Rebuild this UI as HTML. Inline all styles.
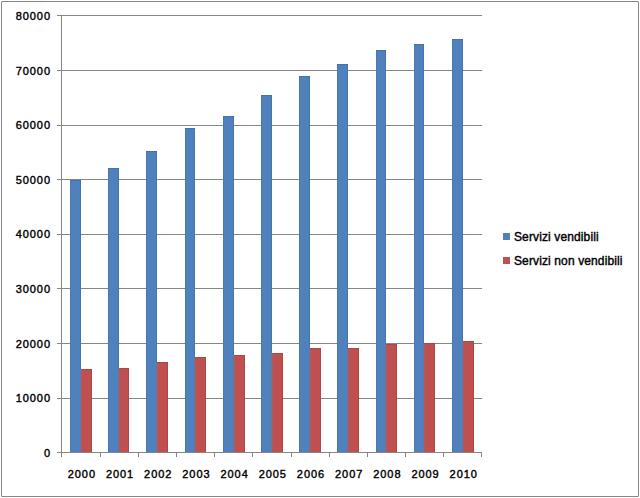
<!DOCTYPE html>
<html><head><meta charset="utf-8"><style>
html,body{margin:0;padding:0;background:#fff;}
body{width:640px;height:498px;position:relative;overflow:hidden;font-family:"Liberation Sans",sans-serif;font-weight:bold;color:#000;}
.yl,.xl,.lg{font-weight:normal;-webkit-text-stroke:0.4px #000;}
#frame{position:absolute;left:1px;top:1px;width:638px;height:496px;box-sizing:border-box;border:1px solid #868686;border-radius:1px;}
.c div{position:absolute;}
svg{position:absolute;left:0;top:0;}
.yl{position:absolute;right:589px;font-size:11px;line-height:14px;height:14px;white-space:nowrap;letter-spacing:0.95px;}
.xl{position:absolute;top:467px;width:60px;text-align:center;font-size:11px;line-height:14px;white-space:nowrap;letter-spacing:0.95px;}
.lg{position:absolute;left:514px;font-size:12px;line-height:14px;white-space:nowrap;letter-spacing:0.12px;}
.sq{position:absolute;left:503px;width:7px;height:7px;}
</style></head><body>
<div id="frame"></div>
<div class="c">
<div style="left:57px;top:15px;width:425px;height:1px;background:#868686"></div>
<div style="left:57px;top:70px;width:425px;height:1px;background:#868686"></div>
<div style="left:57px;top:125px;width:425px;height:1px;background:#868686"></div>
<div style="left:57px;top:179px;width:425px;height:1px;background:#868686"></div>
<div style="left:57px;top:234px;width:425px;height:1px;background:#868686"></div>
<div style="left:57px;top:288px;width:425px;height:1px;background:#868686"></div>
<div style="left:57px;top:343px;width:425px;height:1px;background:#868686"></div>
<div style="left:57px;top:398px;width:425px;height:1px;background:#868686"></div>
<div style="left:57px;top:452px;width:425px;height:1px;background:#868686"></div>
<div style="left:61px;top:15px;width:1px;height:438px;background:#868686"></div>
<div style="left:61px;top:453px;width:1px;height:4px;background:#868686"></div>
<div style="left:100px;top:453px;width:1px;height:4px;background:#868686"></div>
<div style="left:138px;top:453px;width:1px;height:4px;background:#868686"></div>
<div style="left:176px;top:453px;width:1px;height:4px;background:#868686"></div>
<div style="left:214px;top:453px;width:1px;height:4px;background:#868686"></div>
<div style="left:252px;top:453px;width:1px;height:4px;background:#868686"></div>
<div style="left:291px;top:453px;width:1px;height:4px;background:#868686"></div>
<div style="left:329px;top:453px;width:1px;height:4px;background:#868686"></div>
<div style="left:367px;top:453px;width:1px;height:4px;background:#868686"></div>
<div style="left:405px;top:453px;width:1px;height:4px;background:#868686"></div>
<div style="left:443px;top:453px;width:1px;height:4px;background:#868686"></div>
<div style="left:481px;top:453px;width:1px;height:4px;background:#868686"></div>
</div>
<svg width="640" height="498" viewBox="0 0 640 498" shape-rendering="crispEdges">
<rect x="70" y="180" width="11" height="272" fill="#4F81BD"/>
<rect x="81" y="369" width="11" height="83" fill="#C0504D"/>
<rect x="70" y="180" width="1" height="272" fill="#000" fill-opacity="0.06"/>
<rect x="80" y="180" width="1" height="189" fill="#000" fill-opacity="0.1"/>
<rect x="70" y="180" width="11" height="1" fill="#000" fill-opacity="0.1"/>
<rect x="91" y="369" width="1" height="83" fill="#000" fill-opacity="0.1"/>
<rect x="81" y="369" width="11" height="1" fill="#000" fill-opacity="0.1"/>
<rect x="80" y="370" width="1" height="82" fill="#71729B"/>
<rect x="81" y="370" width="1" height="82" fill="#9E5F6F"/>
<rect x="108" y="168" width="11" height="284" fill="#4F81BD"/>
<rect x="119" y="368" width="10" height="84" fill="#C0504D"/>
<rect x="108" y="168" width="1" height="284" fill="#000" fill-opacity="0.06"/>
<rect x="118" y="168" width="1" height="200" fill="#000" fill-opacity="0.1"/>
<rect x="108" y="168" width="11" height="1" fill="#000" fill-opacity="0.1"/>
<rect x="128" y="368" width="1" height="84" fill="#000" fill-opacity="0.1"/>
<rect x="119" y="368" width="10" height="1" fill="#000" fill-opacity="0.1"/>
<rect x="118" y="369" width="1" height="83" fill="#71729B"/>
<rect x="119" y="369" width="1" height="83" fill="#9E5F6F"/>
<rect x="146" y="151" width="11" height="301" fill="#4F81BD"/>
<rect x="157" y="362" width="11" height="90" fill="#C0504D"/>
<rect x="146" y="151" width="1" height="301" fill="#000" fill-opacity="0.06"/>
<rect x="156" y="151" width="1" height="211" fill="#000" fill-opacity="0.1"/>
<rect x="146" y="151" width="11" height="1" fill="#000" fill-opacity="0.1"/>
<rect x="167" y="362" width="1" height="90" fill="#000" fill-opacity="0.1"/>
<rect x="157" y="362" width="11" height="1" fill="#000" fill-opacity="0.1"/>
<rect x="156" y="363" width="1" height="89" fill="#71729B"/>
<rect x="157" y="363" width="1" height="89" fill="#9E5F6F"/>
<rect x="185" y="128" width="10" height="324" fill="#4F81BD"/>
<rect x="195" y="357" width="11" height="95" fill="#C0504D"/>
<rect x="185" y="128" width="1" height="324" fill="#000" fill-opacity="0.06"/>
<rect x="194" y="128" width="1" height="229" fill="#000" fill-opacity="0.1"/>
<rect x="185" y="128" width="10" height="1" fill="#000" fill-opacity="0.1"/>
<rect x="205" y="357" width="1" height="95" fill="#000" fill-opacity="0.1"/>
<rect x="195" y="357" width="11" height="1" fill="#000" fill-opacity="0.1"/>
<rect x="194" y="358" width="1" height="94" fill="#71729B"/>
<rect x="195" y="358" width="1" height="94" fill="#9E5F6F"/>
<rect x="223" y="116" width="11" height="336" fill="#4F81BD"/>
<rect x="234" y="355" width="11" height="97" fill="#C0504D"/>
<rect x="223" y="116" width="1" height="336" fill="#000" fill-opacity="0.06"/>
<rect x="233" y="116" width="1" height="239" fill="#000" fill-opacity="0.1"/>
<rect x="223" y="116" width="11" height="1" fill="#000" fill-opacity="0.1"/>
<rect x="244" y="355" width="1" height="97" fill="#000" fill-opacity="0.1"/>
<rect x="234" y="355" width="11" height="1" fill="#000" fill-opacity="0.1"/>
<rect x="233" y="356" width="1" height="96" fill="#71729B"/>
<rect x="234" y="356" width="1" height="96" fill="#9E5F6F"/>
<rect x="261" y="95" width="11" height="357" fill="#4F81BD"/>
<rect x="272" y="353" width="11" height="99" fill="#C0504D"/>
<rect x="261" y="95" width="1" height="357" fill="#000" fill-opacity="0.06"/>
<rect x="271" y="95" width="1" height="258" fill="#000" fill-opacity="0.1"/>
<rect x="261" y="95" width="11" height="1" fill="#000" fill-opacity="0.1"/>
<rect x="282" y="353" width="1" height="99" fill="#000" fill-opacity="0.1"/>
<rect x="272" y="353" width="11" height="1" fill="#000" fill-opacity="0.1"/>
<rect x="271" y="354" width="1" height="98" fill="#71729B"/>
<rect x="272" y="354" width="1" height="98" fill="#9E5F6F"/>
<rect x="299" y="76" width="11" height="376" fill="#4F81BD"/>
<rect x="310" y="348" width="11" height="104" fill="#C0504D"/>
<rect x="299" y="76" width="1" height="376" fill="#000" fill-opacity="0.06"/>
<rect x="309" y="76" width="1" height="272" fill="#000" fill-opacity="0.1"/>
<rect x="299" y="76" width="11" height="1" fill="#000" fill-opacity="0.1"/>
<rect x="320" y="348" width="1" height="104" fill="#000" fill-opacity="0.1"/>
<rect x="310" y="348" width="11" height="1" fill="#000" fill-opacity="0.1"/>
<rect x="309" y="349" width="1" height="103" fill="#71729B"/>
<rect x="310" y="349" width="1" height="103" fill="#9E5F6F"/>
<rect x="337" y="64" width="11" height="388" fill="#4F81BD"/>
<rect x="348" y="348" width="11" height="104" fill="#C0504D"/>
<rect x="337" y="64" width="1" height="388" fill="#000" fill-opacity="0.06"/>
<rect x="347" y="64" width="1" height="284" fill="#000" fill-opacity="0.1"/>
<rect x="337" y="64" width="11" height="1" fill="#000" fill-opacity="0.1"/>
<rect x="358" y="348" width="1" height="104" fill="#000" fill-opacity="0.1"/>
<rect x="348" y="348" width="11" height="1" fill="#000" fill-opacity="0.1"/>
<rect x="347" y="349" width="1" height="103" fill="#71729B"/>
<rect x="348" y="349" width="1" height="103" fill="#9E5F6F"/>
<rect x="376" y="50" width="10" height="402" fill="#4F81BD"/>
<rect x="386" y="344" width="11" height="108" fill="#C0504D"/>
<rect x="376" y="50" width="1" height="402" fill="#000" fill-opacity="0.06"/>
<rect x="385" y="50" width="1" height="294" fill="#000" fill-opacity="0.1"/>
<rect x="376" y="50" width="10" height="1" fill="#000" fill-opacity="0.1"/>
<rect x="396" y="344" width="1" height="108" fill="#000" fill-opacity="0.1"/>
<rect x="386" y="344" width="11" height="1" fill="#000" fill-opacity="0.1"/>
<rect x="385" y="345" width="1" height="107" fill="#71729B"/>
<rect x="386" y="345" width="1" height="107" fill="#9E5F6F"/>
<rect x="414" y="44" width="10" height="408" fill="#4F81BD"/>
<rect x="424" y="343" width="11" height="109" fill="#C0504D"/>
<rect x="414" y="44" width="1" height="408" fill="#000" fill-opacity="0.06"/>
<rect x="423" y="44" width="1" height="299" fill="#000" fill-opacity="0.1"/>
<rect x="414" y="44" width="10" height="1" fill="#000" fill-opacity="0.1"/>
<rect x="434" y="343" width="1" height="109" fill="#000" fill-opacity="0.1"/>
<rect x="424" y="343" width="11" height="1" fill="#000" fill-opacity="0.1"/>
<rect x="423" y="344" width="1" height="108" fill="#71729B"/>
<rect x="424" y="344" width="1" height="108" fill="#9E5F6F"/>
<rect x="452" y="39" width="11" height="413" fill="#4F81BD"/>
<rect x="463" y="341" width="11" height="111" fill="#C0504D"/>
<rect x="452" y="39" width="1" height="413" fill="#000" fill-opacity="0.06"/>
<rect x="462" y="39" width="1" height="302" fill="#000" fill-opacity="0.1"/>
<rect x="452" y="39" width="11" height="1" fill="#000" fill-opacity="0.1"/>
<rect x="473" y="341" width="1" height="111" fill="#000" fill-opacity="0.1"/>
<rect x="463" y="341" width="11" height="1" fill="#000" fill-opacity="0.1"/>
<rect x="462" y="342" width="1" height="110" fill="#71729B"/>
<rect x="463" y="342" width="1" height="110" fill="#9E5F6F"/>
</svg>
<span class="yl" style="top:9px">80000</span>
<span class="yl" style="top:64px">70000</span>
<span class="yl" style="top:118px">60000</span>
<span class="yl" style="top:173px">50000</span>
<span class="yl" style="top:227px">40000</span>
<span class="yl" style="top:282px">30000</span>
<span class="yl" style="top:337px">20000</span>
<span class="yl" style="top:391px">10000</span>
<span class="yl" style="top:446px">0</span>
<span class="xl" style="left:51.89px">2000</span>
<span class="xl" style="left:90.07px">2001</span>
<span class="xl" style="left:128.25px">2002</span>
<span class="xl" style="left:166.44px">2003</span>
<span class="xl" style="left:204.62px">2004</span>
<span class="xl" style="left:242.80px">2005</span>
<span class="xl" style="left:280.98px">2006</span>
<span class="xl" style="left:319.16px">2007</span>
<span class="xl" style="left:357.35px">2008</span>
<span class="xl" style="left:395.53px">2009</span>
<span class="xl" style="left:433.71px">2010</span>
<div class="sq" style="top:233px;background:#4F81BD"></div>
<div class="sq" style="top:257px;background:#C0504D"></div>
<span class="lg" style="top:230px">Servizi vendibili</span>
<span class="lg" style="top:254px">Servizi non vendibili</span>
</body></html>
